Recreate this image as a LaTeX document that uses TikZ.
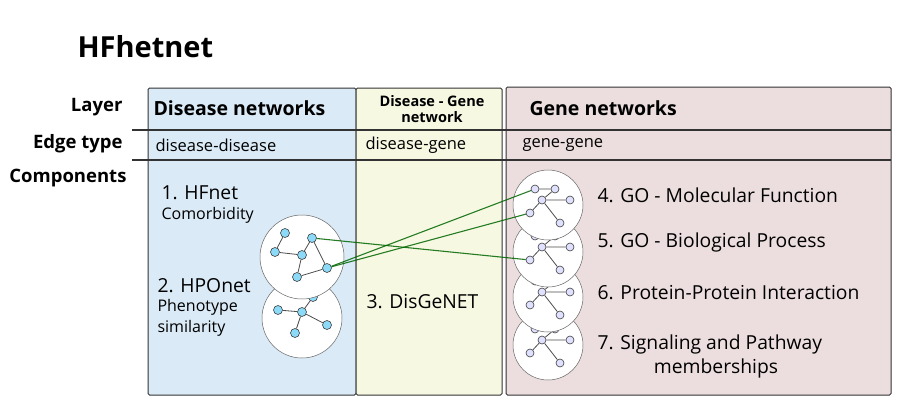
\documentclass[tikz,border=0pt]{standalone}
\usepackage{fontspec}
\setmainfont{Open Sans}
\begin{document}
\begin{tikzpicture}[x=1pt,y=-1pt,
  hdr/.style={font=\fontsize{19.5}{21}\selectfont\bfseries},
  lab/.style={font=\fontsize{18.5}{21}\selectfont\bfseries,anchor=east},
  et/.style={font=\fontsize{16.5}{18}\selectfont,anchor=west},
  comp/.style={font=\fontsize{19.3}{21}\selectfont,anchor=west},
  sub/.style={font=\fontsize{16}{17}\selectfont,anchor=west},
  circ/.style={draw=black!60,fill=white,line width=0.5pt},
  dn/.style={circle,draw=black!75,fill=cyan!45!white,inner sep=0pt,minimum size=9pt,line width=0.6pt},
  gn/.style={circle,draw=black!75,fill=blue!12!white,inner sep=0pt,minimum size=8pt,line width=0.6pt},
  ed/.style={draw=black!70,line width=0.8pt},
  gl/.style={draw=green!40!black,line width=1.1pt,opacity=0.85},
  col/.style={draw=black!80,line width=1pt,rounded corners=1.5pt}]
\useasboundingbox (0,0) rectangle (911,410);
\definecolor{cblue}{RGB}{218,234,246}
\definecolor{cyel}{RGB}{246,248,226}
\definecolor{cpink}{RGB}{236,222,222}
\fill[white] (0,0) rectangle (911,410);
\draw[col,fill=cblue] (148,88) rectangle (356,395);
\draw[col,fill=cyel] (356,88) rectangle (502,395);
\draw[col,fill=cpink] (506,87) rectangle (891,395);
\draw[black!80,line width=1.2pt] (132,130) -- (891,130);
\draw[black!80,line width=1.2pt] (132,160) -- (891,160);

\node[font=\fontsize{29}{31}\selectfont\bfseries,anchor=west] (title) at (74,47) {HFhetnet};
\node[lab] (l1) at (126,107) {Layer};
\node[lab] (l2) at (126,144) {Edge type};
\node[lab] (l3) at (130,178) {Components};
\node[hdr,anchor=west] (h1) at (150,108) {Disease networks};
\node[font=\fontsize{14.5}{16}\selectfont\bfseries,align=center] (h2) at (432,109) {Disease - Gene\\network};
\node[hdr,anchor=west] (h3) at (526,108) {Gene networks};
\node[et] (e1) at (152,145) {disease-disease};
\node[et] (e2) at (362,145) {disease-gene};
\node[et] (e3) at (519,145) {gene-gene};
\node[comp] (c1) at (158,193) {1. HFnet};
\node[sub] (c1s) at (158,215) {Comorbidity};
\node[comp] (c2) at (154,286) {2. HPOnet};
\node[sub] (c2a) at (154,307) {Phenotype};
\node[sub] (c2b) at (154,328) {similarity};
\node[comp] (c3) at (363,302) {3. DisGeNET};
\node[comp] (g4) at (594,195) {4. GO - Molecular Function};
\node[comp] (g5) at (594,242) {5. GO - Biological Process};
\node[comp] (g6) at (594,293) {6. Protein-Protein Interaction};
\node[comp] (g7) at (594,344) {7. Signaling and Pathway};
\node[font=\fontsize{19.3}{21}\selectfont] (g7b) at (716,368) {memberships};

% gene circles
\foreach \i/\cy in {4/345,3/297,2/252,1/205}{
  \draw[circ] (548,\cy) circle (35);
  \begin{scope}[shift={(548,\cy)}]
    \node[gn] (a\i) at (-13,-16) {};
    \node[gn] (b\i) at (7,-16) {};
    \node[gn] (c\i) at (22,-5) {};
    \node[gn] (d\i) at (-6,-5) {};
    \node[gn] (e\i) at (-18,8) {};
    \node[gn] (f\i) at (12,18) {};
    \draw[ed] (a\i)--(b\i) (b\i)--(d\i) (d\i)--(c\i) (d\i)--(e\i) (d\i)--(f\i);
  \end{scope}
}
% lower disease circle
\draw[circ] (302,318) circle (40);
\node[dn] (p1) at (278,310) {};
\node[dn] (p2) at (302,312) {};
\node[dn] (p3) at (327,325) {};
\node[dn] (p4) at (295,333) {};
\node[dn] (p5) at (313,297) {};
\draw[ed] (p1)--(p2) (p2)--(p3) (p2)--(p4) (p2)--(p5);
% upper disease circle
\draw[circ] (302,257) circle (42);
\node[dn] (q1) at (285,233) {};
\node[dn] (q2) at (275,252) {};
\node[dn] (q3) at (302,255) {};
\node[dn] (q4) at (312,238) {};
\node[dn] (q5) at (327,268) {};
\node[dn] (q6) at (297,277) {};
\draw[ed] (q1)--(q2) (q2)--(q3) (q3)--(q4) (q4)--(q5) (q5)--(q6) (q3)--(q6);
% cross-layer links
\draw[gl] (q4)--(e2);
\draw[gl] (q5)--(a1);
\draw[gl] (q5)--(e1);
\end{tikzpicture}
\end{document}
